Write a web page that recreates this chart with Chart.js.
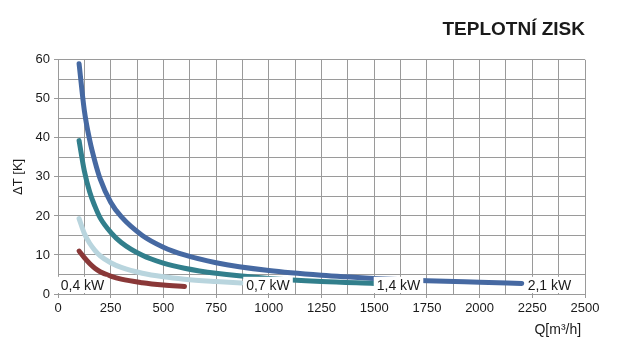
<!DOCTYPE html>
<html>
<head>
<meta charset="utf-8">
<script src="https://cdn.jsdelivr.net/npm/chart.js@4.4.0/dist/chart.umd.min.js"></script>
<style>
  body { margin: 0; background: #fff; }
  canvas { display: block; }
</style>
</head>
<body>
<canvas id="chart" width="618" height="351"></canvas>
<script>
// values (Q in m3/h, dT in K)
const seriesNames = ['0,4 kW', '0,7 kW', '1,4 kW', '2,1 kW'];
const q04 = [100, 125, 150, 175, 200, 250, 300, 400, 500, 600];
const t04 = [11, 9.3, 7.8, 6.6, 5.7, 4.6, 3.8, 2.9, 2.3, 1.9];
const q07 = [100, 125, 150, 175, 200, 250, 300, 400, 500, 600, 750, 870];
const t07 = [19.3, 15.5, 13, 11.2, 9.8, 8, 6.8, 5.3, 4.4, 3.8, 3.2, 2.8];
const q14 = [100, 125, 150, 175, 200, 250, 300, 400, 500, 600, 750, 1000, 1250, 1500];
const t14 = [39.3, 31.5, 26.2, 22.5, 19.5, 15.8, 13.2, 9.9, 7.9, 6.6, 5.3, 4, 3.2, 2.7];
const q21 = [100, 125, 150, 175, 200, 250, 300, 400, 500, 600, 750, 1000, 1250, 1500, 1750, 2000, 2200];
const t21 = [59, 47, 39.5, 34, 29.5, 23.5, 19.8, 15, 12, 10, 8, 6, 4.8, 4, 3.4, 3, 2.7];

const colors = ['#8a3838', '#b9d5de', '#327f8c', '#4669a2'];
// where each label text starts, in axis units
const labelAt = [[13, 2.1], [893, 2.1], [1512, 2.1], [2228, 2.1]];

const toPoints = (xs, ys) => xs.map((x, i) => ({ x: x, y: ys[i] }));
const allSeries = [[q04, t04], [q07, t07], [q14, t14], [q21, t21]];

const gridColor = '#9a9a9a';
const font = 'Liberation Sans, Arial, sans-serif';

const seriesLabels = {
  id: 'seriesLabels',
  afterDatasetsDraw(chart) {
    const ctx = chart.ctx;
    const xs = chart.scales.x, ys = chart.scales.y;
    ctx.save();
    ctx.font = '14px ' + font;
    ctx.textBaseline = 'middle';
    seriesNames.forEach((name, i) => {
      const px = xs.getPixelForValue(labelAt[i][0]);
      const py = ys.getPixelForValue(labelAt[i][1]);
      const w = ctx.measureText(name).width;
      ctx.fillStyle = '#fff';
      ctx.fillRect(px - 3, py - 9, w + 6, chart.chartArea.bottom - (py - 9) - 1);
      ctx.fillStyle = '#1a1a1a';
      ctx.fillText(name, px, py);
    });
    ctx.restore();
  }
};

new Chart(document.getElementById('chart'), {
  type: 'line',
  data: {
    datasets: allSeries.map((s, i) => ({
      label: seriesNames[i],
      data: toPoints(s[0], s[1]),
      borderColor: colors[i],
      borderWidth: 5,
      borderCapStyle: 'round',
      pointRadius: 0,
      cubicInterpolationMode: 'monotone',
      fill: false
    }))
  },
  options: {
    responsive: false,
    animation: false,
    layout: { padding: { left: 0, right: 33, bottom: 0 } },
    plugins: {
      legend: { display: false },
      tooltip: { enabled: false },
      title: {
        display: true,
        text: 'TEPLOTNÍ ZISK',
        align: 'end',
        color: '#1a1a1a',
        font: { family: font, size: 19, weight: 'bold' },
        padding: { top: 18, bottom: 19 }
      }
    },
    scales: {
      x: {
        type: 'linear',
        min: 0,
        max: 2500,
        afterFit: s => { s.height = 57; },
        ticks: {
          stepSize: 125,
          autoSkip: false,
          maxRotation: 0,
          padding: 3,
          color: '#1a1a1a',
          font: { family: font, size: 13 },
          callback: v => (v % 250 === 0 ? v : '')
        },
        grid: {
          color: gridColor,
          tickLength: 4,
          tickColor: c => (c.tick && c.tick.value % 250 === 0 ? gridColor : 'rgba(0,0,0,0)')
        },
        border: { color: gridColor },
        title: {
          display: true,
          text: 'Q[m³/h] ',
          align: 'end',
          color: '#1a1a1a',
          font: { family: font, size: 14 },
          padding: { top: 0, bottom: 12 }
        }
      },
      y: {
        min: 0,
        max: 60,
        afterFit: s => { s.width = 58; },
        ticks: {
          stepSize: 5,
          autoSkip: false,
          padding: 4,
          color: '#1a1a1a',
          font: { family: font, size: 13 },
          callback: v => (v % 10 === 0 ? v : '')
        },
        grid: {
          color: gridColor,
          tickLength: 4,
          tickColor: c => (c.tick && c.tick.value % 10 === 0 ? gridColor : 'rgba(0,0,0,0)')
        },
        border: { color: gridColor },
        title: {
          display: true,
          text: 'ΔT [K]',
          color: '#1a1a1a',
          font: { family: font, size: 13 },
          padding: { top: 11, bottom: 0 }
        }
      }
    }
  },
  plugins: [seriesLabels]
});
</script>
</body>
</html>
